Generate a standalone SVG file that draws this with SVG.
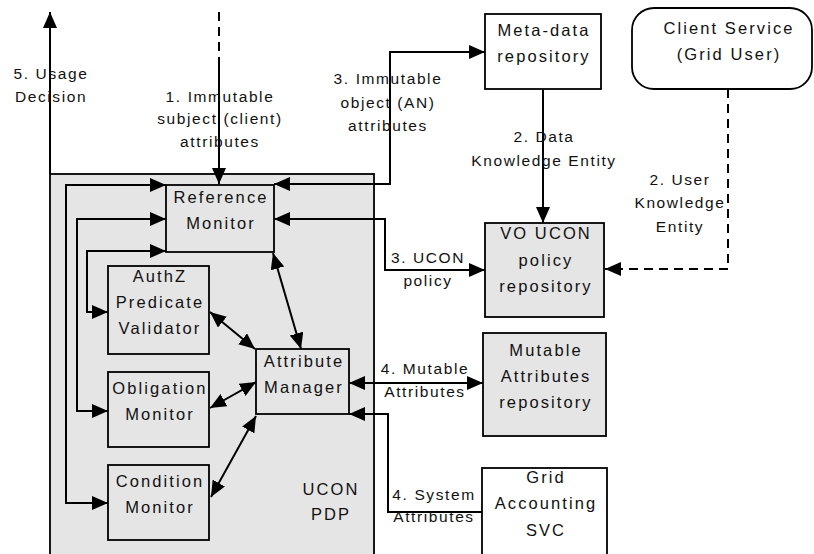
<svg xmlns="http://www.w3.org/2000/svg" width="814" height="554" viewBox="0 0 814 554">
<defs>
<marker id="ah" markerUnits="userSpaceOnUse" markerWidth="17" markerHeight="15" refX="16" refY="7" orient="auto-start-reverse">
<path d="M0,0 L16,7 L0,14 z" fill="#000"/>
</marker>
<style>
.box{stroke:#000;stroke-width:1.8}
.g{fill:#e5e5e5}
.w{fill:#fff}
.n{font-family:"Liberation Sans",Arial,sans-serif;font-size:16.5px;letter-spacing:2.1px;text-anchor:middle;fill:#111}
.l{font-family:"Liberation Sans",Arial,sans-serif;font-size:15.5px;letter-spacing:1.6px;text-anchor:middle;fill:#111}
.c{fill:none;stroke:#000;stroke-width:2}
.b{marker-start:url(#ah);marker-end:url(#ah)}
.e{marker-end:url(#ah)}
.d{stroke-dasharray:9 6}
</style>
</defs>
<rect width="814" height="554" fill="#fff"/>
<g id="pdp">
<rect class="box g" x="50" y="174" width="324" height="400"/>
<text class="n"><tspan x="331" y="495">UCON</tspan><tspan x="331" y="520">PDP</tspan></text>
</g>
<g id="meta">
<rect class="box w" x="485" y="14" width="116" height="75"/>
<text class="n"><tspan x="544" y="36">Meta-data</tspan><tspan x="544" y="62">repository</tspan></text>
</g>
<g id="client">
<rect class="box w" x="632" y="8" width="180" height="81" rx="22"/>
<text class="n"><tspan x="729" y="34">Client Service</tspan><tspan x="729" y="60">(Grid User)</tspan></text>
</g>
<g id="vo">
<rect class="box g" x="485" y="223" width="119" height="94"/>
<text class="n"><tspan x="546" y="239">VO UCON</tspan><tspan x="546" y="266">policy</tspan><tspan x="546" y="292">repository</tspan></text>
</g>
<g id="mutable">
<rect class="box g" x="483" y="333" width="123" height="103"/>
<text class="n"><tspan x="546" y="356">Mutable</tspan><tspan x="546" y="382">Attributes</tspan><tspan x="546" y="408">repository</tspan></text>
</g>
<g id="grid">
<rect class="box w" x="482" y="468" width="125" height="100"/>
<text class="n"><tspan x="546" y="483">Grid</tspan><tspan x="546" y="509">Accounting</tspan><tspan x="546" y="536">SVC</tspan></text>
</g>
<g id="reference">
<rect class="box g" x="166" y="185" width="108" height="67"/>
<text class="n"><tspan x="221" y="203">Reference</tspan><tspan x="221" y="229">Monitor</tspan></text>
</g>
<g id="authz">
<rect class="box g" x="108" y="266" width="101" height="88"/>
<text class="n"><tspan x="160" y="282">AuthZ</tspan><tspan x="160" y="308">Predicate</tspan><tspan x="160" y="334">Validator</tspan></text>
</g>
<g id="obligation">
<rect class="box g" x="108" y="372" width="101" height="75"/>
<text class="n"><tspan x="160" y="394">Obligation</tspan><tspan x="160" y="420">Monitor</tspan></text>
</g>
<g id="condition">
<rect class="box g" x="108" y="465" width="101" height="75"/>
<text class="n"><tspan x="160" y="487">Condition</tspan><tspan x="160" y="513">Monitor</tspan></text>
</g>
<g id="attribute">
<rect class="box g" x="256" y="349" width="93" height="65"/>
<text class="n"><tspan x="304" y="367">Attribute</tspan><tspan x="304" y="393">Manager</tspan></text>
</g>
<g id="connectors">
<path class="c e" d="M50,174 V12"/>
<path class="c d" d="M219,12 V67"/>
<path class="c e" d="M219,66 V184"/>
<path class="c b" d="M166,185 H66 V503 H108"/>
<path class="c b" d="M166,219 H77 V411 H108"/>
<path class="c b" d="M166,251 H87 V312 H108"/>
<path class="c b" d="M274,184 H390 V52 H485"/>
<path class="c b" d="M274,219 H385 V270 H485"/>
<path class="c e" d="M543,89 V223"/>
<path class="c e d" d="M728,89 V269 H605"/>
<path class="c b" d="M273,253 L301,349"/>
<path class="c b" d="M210,312 L255,349"/>
<path class="c b" d="M210,408 L256,382"/>
<path class="c b" d="M211,497 L256,416"/>
<path class="c b" d="M349,383 H483"/>
<path class="c e" d="M482,512 H388 V414 H349"/>
</g>
<g id="labels">
<text class="l"><tspan x="51" y="79">5. Usage</tspan><tspan x="51" y="102">Decision</tspan></text>
<text class="l"><tspan x="220" y="102">1. Immutable</tspan><tspan x="220" y="124">subject (client)</tspan><tspan x="220" y="147">attributes</tspan></text>
<text class="l"><tspan x="388" y="84">3. Immutable</tspan><tspan x="388" y="108">object (AN)</tspan><tspan x="388" y="131">attributes</tspan></text>
<text class="l"><tspan x="544" y="142">2. Data</tspan><tspan x="544" y="166">Knowledge Entity</tspan></text>
<text class="l"><tspan x="680" y="185">2. User</tspan><tspan x="680" y="208">Knowledge</tspan><tspan x="680" y="232">Entity</tspan></text>
<text class="l"><tspan x="428" y="263">3. UCON</tspan><tspan x="428" y="286">policy</tspan></text>
<text class="l"><tspan x="425" y="374">4. Mutable</tspan><tspan x="425" y="397">Attributes</tspan></text>
<text class="l"><tspan x="434" y="500">4. System</tspan><tspan x="434" y="522">Attributes</tspan></text>
</g>
</svg>
